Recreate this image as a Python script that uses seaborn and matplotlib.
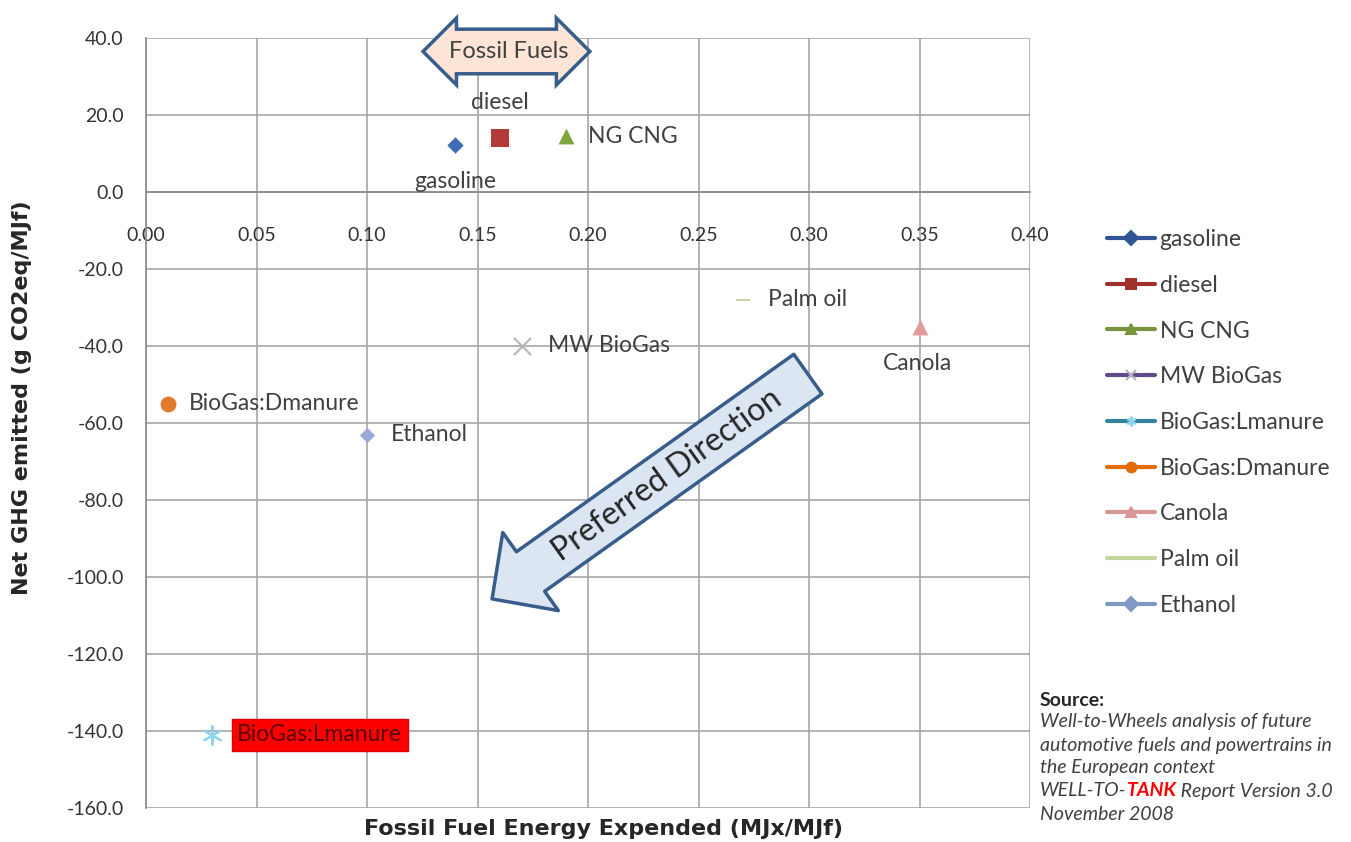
import numpy as np
import pandas as pd
import matplotlib.pyplot as plt
import seaborn as sns
from matplotlib.lines import Line2D

sns.set_theme(style="white")
plt.rcParams["font.family"] = ["Lato", "DejaVu Sans"]

# data
fuels = ['gasoline', 'diesel', 'NG CNG', 'MW BioGas', 'BioGas:Lmanure',
         'BioGas:Dmanure', 'Canola', 'Palm oil', 'Ethanol']
energy = [0.14, 0.16, 0.19, 0.17, 0.03, 0.01, 0.35, 0.27, 0.10]
ghg = [12.3, 14.0, 14.5, -40.0, -141.0, -55.0, -35.0, -28.0, -63.0]
x_ticks = [0.00, 0.05, 0.10, 0.15, 0.20, 0.25, 0.30, 0.35, 0.40]
y_ticks = [40, 20, 0, -20, -40, -60, -80, -100, -120, -140, -160]

# styles
point_colors = ['#3F6DB3', '#B23B39', '#7FA63C', '#B4B4BC', '#8ED3EC',
                '#E07B2E', '#E39A9A', '#C9D3A6', '#9BA9D9']
line_colors = ['#2F5597', '#A0302D', '#77933C', '#5F4B8B', '#31849B',
               '#E46C0A', '#D99694', '#C3D69B', '#7F9AC4']
markers = ['D', 's', '^', 'x', (6, 2, 0), 'o', '^', '_', 'D']
sizes = [70, 150, 130, 150, 180, 130, 130, 100, 60]
# label offsets in pixels and alignment
lab_off = [(0, -37, 'center'), (0, 36, 'center'), (22, 0, 'left'),
           (26, 0, 'left'), (25, 0, 'left'), (21, 0, 'left'),
           (-2, -37, 'center'), (25, 0, 'left'), (24, 0, 'left')]

df = pd.DataFrame({'fuel': fuels, 'energy': energy, 'ghg': ghg})

fig = plt.figure(figsize=(13.51, 8.42), dpi=100)
ax = fig.add_axes([146 / 1351, 1 - 808 / 842, 884 / 1351, 770 / 842])

for i, row in df.iterrows():
    thin = markers[i] in ('x', '_') or isinstance(markers[i], tuple)
    sns.scatterplot(x=[row['energy']], y=[row['ghg']], marker=markers[i],
                    s=sizes[i], color=point_colors[i],
                    linewidth=1.5 if thin else 0, ax=ax, zorder=5)

ax.set_xlim(0, 0.40)
ax.set_ylim(-160, 40)
ax.set_xticks(x_ticks)
ax.set_yticks(y_ticks)
ax.set_xticklabels([f'{v:.2f}' for v in x_ticks])
ax.set_yticklabels([f'{v:.1f}' for v in y_ticks])
ax.tick_params(axis='both', labelsize=14, labelcolor='#333333', length=0)
ax.tick_params(axis='x', pad=25)
ax.tick_params(axis='y', pad=16)
ax.grid(True, color='#A6A6A6', lw=1.2)
ax.set_axisbelow(True)
for s in ['top', 'right']:
    ax.spines[s].set_visible(False)
ax.spines['bottom'].set_position(('data', 0))
ax.spines['bottom'].set_color('#8C8C8C')
ax.spines['left'].set_color('#8C8C8C')
ax.set_xlabel('')
ax.set_ylabel('')
fig.text(603 / 1351, 1 - 829 / 842, 'Fossil Fuel Energy Expended (MJx/MJf)',
         family='DejaVu Sans', fontsize=16, fontweight='bold', color='#262626',
         ha='center', va='center')
fig.text(22 / 1351, 1 - 398 / 842, 'Net GHG emitted (g CO2eq/MJf)', rotation=90,
         family='DejaVu Sans', fontsize=16, fontweight='bold', color='#262626',
         ha='center', va='center')

# point labels
for i, row in df.iterrows():
    dx, dy, ha = lab_off[i]
    kw = {}
    col = '#404040'
    if row['fuel'] == 'BioGas:Lmanure':
        kw['bbox'] = dict(boxstyle='square,pad=0.25', fc='#FF0000', ec='#E00000')
        col = '#5A0000'
    ax.annotate(row['fuel'], (row['energy'], row['ghg']), xytext=(dx, dy),
                textcoords='offset pixels', ha=ha, va='center', fontsize=16.5,
                color=col, zorder=6, **kw)

# fossil fuels double arrow
ax.text(0.1640, 36.5, 'Fossil Fuels', fontsize=17, color='#404040', ha='center',
        va='center', zorder=7, clip_on=False,
        bbox=dict(boxstyle='darrow,pad=0.5', fc='#FCE4D6', ec='#385D8A', lw=2.5))

# preferred direction arrow
ax.annotate('', xy=(0.1566, -105.7), xytext=(0.2995, -47.3), zorder=6,
            arrowprops=dict(arrowstyle='simple,tail_width=3.5,head_width=6.9,head_length=3.4',
                            mutation_scale=10, fc='#DCE6F2', ec='#385D8A', lw=2.5,
                            shrinkA=0, shrinkB=0))
ax.text(0.2357, -73.5, 'Preferred Direction', fontsize=23, color='#262626', ha='center',
        va='center', rotation=35.5, rotation_mode='anchor', zorder=7)

# legend
handles = [Line2D([0], [0], color=line_colors[i], lw=3,
                  marker=None if markers[i] == '_' else markers[i],
                  markersize=7, markerfacecolor=line_colors[i],
                  markeredgewidth=1.5,
                  markeredgecolor=point_colors[i] if markers[i] == 'x' or isinstance(markers[i], tuple) else line_colors[i])
           for i in range(len(fuels))]
fig.legend(handles, fuels, loc='upper left', bbox_to_anchor=(1107 / 1351, 1 - 229 / 842),
           frameon=False, fontsize=16.5, labelspacing=1.08, handlelength=2.1,
           handletextpad=0.2, borderpad=0, borderaxespad=0, labelcolor='#404040')

# source note
fs = 14
fig.text(1040 / 1351, 1 - 700 / 842, 'Source:', fontsize=fs, fontweight='bold',
         color='#262626', va='center')
src = ['Well-to-Wheels analysis of future', 'automotive fuels and powertrains in',
       'the European context']
for k, line in enumerate(src):
    fig.text(1040 / 1351, 1 - (722 + 23 * k) / 842, line, fontsize=fs, style='italic',
             color='#404040', va='center')
y_w = 1 - 791 / 842
t1 = fig.text(1040 / 1351, y_w, 'WELL-TO-', fontsize=fs, style='italic',
              color='#404040', va='center')
fig.canvas.draw()
r = fig.canvas.get_renderer()
bb = t1.get_window_extent(r)
t2 = fig.text(bb.x1 / 1351, y_w, 'TANK', fontsize=fs, style='italic', fontweight='bold',
              color='#FF0000', va='center')
bb2 = t2.get_window_extent(r)
fig.text(bb2.x1 / 1351, y_w, ' Report Version 3.0', fontsize=fs, style='italic',
         color='#404040', va='center')
fig.text(1040 / 1351, 1 - 814 / 842, 'November 2008', fontsize=fs, style='italic',
         color='#404040', va='center')

fig.savefig('out.png', dpi=100)
